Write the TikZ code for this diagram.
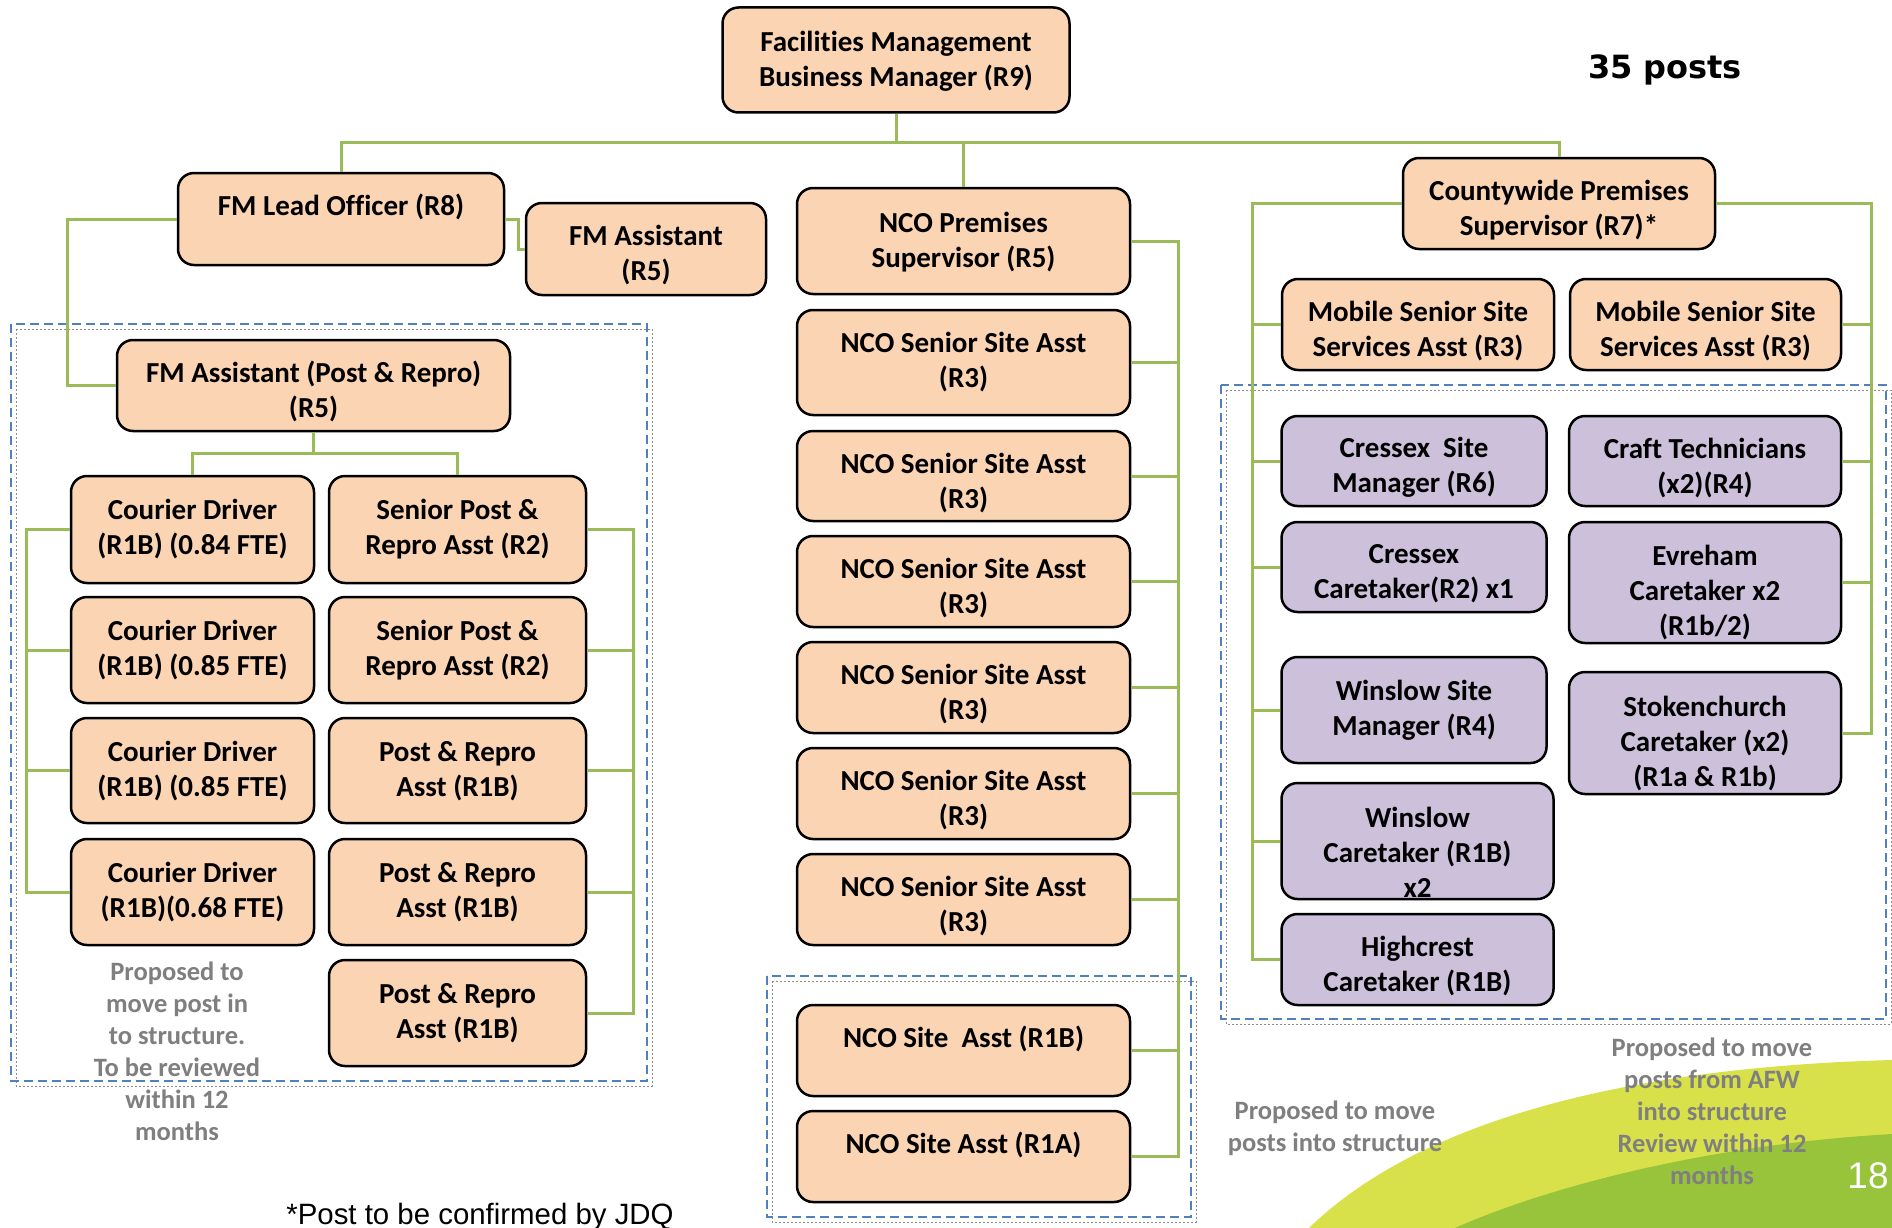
\documentclass[tikz,border=0pt]{standalone}
\usepackage{fontspec}
\setmainfont{Carlito}[Ligatures=NoCommon]
\newfontfamily\arialfont{Liberation Sans}
\newfontfamily\verdanafont{DejaVu Sans}
\usetikzlibrary{calc}

\definecolor{peach}{RGB}{251,212,180}
\definecolor{lilac}{RGB}{204,192,218}
\definecolor{linkgreen}{RGB}{155,187,89}
\definecolor{frameblue}{RGB}{79,129,189}
\definecolor{notegrey}{RGB}{127,127,127}
\definecolor{lime}{RGB}{217,225,74}
\definecolor{leaf}{RGB}{151,196,58}

\tikzset{
  postbox/.style={draw=black, line width=2.5pt, rounded corners=16pt, fill=peach, inner sep=0pt},
  sitebox/.style={postbox, fill=lilac},
  boxtext/.style={align=center, inner sep=0pt, font=\fontsize{29}{35}\selectfont\bfseries},
  link/.style={draw=linkgreen, line width=3pt},
  dashframe/.style={draw=frameblue, line width=2pt, dash pattern=on 9pt off 5pt},
  dashshade/.style={draw=black!45, line width=0.9pt, dash pattern=on 2pt off 2pt},
  remark/.style={align=center, text=notegrey, inner sep=0pt,
    font=\fontsize{26.5}{32}\selectfont\bfseries},
}

% #1 style, #2 name, #3,#4 centre, #5 width, #6 height,
% #7 drop of the text block below the top edge, #8 text
\newcommand\orgbox[8]{%
  \node[#1, minimum width=#5pt, minimum height=#6pt] (#2) at (#3,#4) {};
  \node[boxtext] (#2-t) at ([yshift=-#7pt]#2.north) {#8};
}

\begin{document}
\begin{tikzpicture}[x=1pt, y=-1pt]
\useasboundingbox (0,0) rectangle (1892,1228);
\fill[white] (0,0) rectangle (1892,1228);

% decorative swoosh, bottom right
\fill[lime] (1309,1228) .. controls (1410,1130) and (1600,1068) .. (1892,1060) -- (1892,1228) -- cycle;
\fill[leaf] (1455,1228) .. controls (1540,1190) and (1700,1145) .. (1892,1134) -- (1892,1228) -- cycle;

% dashed groupings of proposed posts
\draw[dashshade] (16,329) rectangle (652,1086);
\draw[dashframe] (11,324) rectangle (647,1081);
\draw[dashshade] (772,981) rectangle (1196,1222);
\draw[dashframe] (767,976) rectangle (1191,1217);
\draw[dashshade] (1226,390) rectangle (1891,1024);
\draw[dashframe] (1221,385) rectangle (1886,1019);

% ---- posts ----
\orgbox{postbox}{top}{896}{60}{347}{105}{55}{Facilities Management\\Business Manager (R9)}

\orgbox{postbox}{lead}{341}{219}{326}{92}{35.5}{FM Lead Officer (R8)}
\orgbox{postbox}{fmasst}{646}{249}{240}{92}{53.5}{FM Assistant\\(R5)}
\orgbox{postbox}{pr}{313.5}{385.5}{393}{91}{53}{FM Assistant (Post \& Repro)\\(R5)}

\orgbox{postbox}{cd1}{192.5}{529.5}{243}{107}{54.5}{Courier Driver\\(R1B) (0.84 FTE)}
\orgbox{postbox}{cd2}{192.5}{650}{243}{106}{54.5}{Courier Driver\\(R1B) (0.85 FTE)}
\orgbox{postbox}{cd3}{192.5}{770.5}{243}{105}{54.5}{Courier Driver\\(R1B) (0.85 FTE)}
\orgbox{postbox}{cd4}{192.5}{892}{243}{106}{54.5}{Courier Driver\\(R1B)(0.68 FTE)}

\orgbox{postbox}{sp1}{457.5}{529.5}{257}{107}{54.5}{Senior Post \&\\Repro Asst (R2)}
\orgbox{postbox}{sp2}{457.5}{650}{257}{106}{54.5}{Senior Post \&\\Repro Asst (R2)}
\orgbox{postbox}{pa1}{457.5}{770.5}{257}{105}{54.5}{Post \& Repro\\Asst (R1B)}
\orgbox{postbox}{pa2}{457.5}{892}{257}{106}{54.5}{Post \& Repro\\Asst (R1B)}
\orgbox{postbox}{pa3}{457.5}{1013}{257}{106}{54.5}{Post \& Repro\\Asst (R1B)}

\orgbox{postbox}{ncop}{963.5}{241}{333}{106}{55}{NCO Premises\\Supervisor (R5)}
\orgbox{postbox}{ns1}{963.5}{362.5}{333}{105}{53.5}{NCO Senior Site Asst\\(R3)}
\orgbox{postbox}{ns2}{963.5}{476}{333}{90}{53}{NCO Senior Site Asst\\(R3)}
\orgbox{postbox}{ns3}{963.5}{581.5}{333}{91}{53}{NCO Senior Site Asst\\(R3)}
\orgbox{postbox}{ns4}{963.5}{687.5}{333}{91}{53}{NCO Senior Site Asst\\(R3)}
\orgbox{postbox}{ns5}{963.5}{793.5}{333}{91}{53}{NCO Senior Site Asst\\(R3)}
\orgbox{postbox}{ns6}{963.5}{899.5}{333}{91}{53}{NCO Senior Site Asst\\(R3)}
\orgbox{postbox}{sb}{963.5}{1050.5}{333}{91}{35}{NCO Site\ \ Asst (R1B)}
\orgbox{postbox}{sa}{963.5}{1156.5}{333}{91}{35}{NCO Site Asst (R1A)}

\orgbox{postbox}{cps}{1559}{203.5}{312}{91}{53.5}{Countywide Premises\\Supervisor (R7)*}
\orgbox{postbox}{msl}{1418}{324.5}{272}{91}{53}{Mobile Senior Site\\Services Asst (R3)}
\orgbox{postbox}{msr}{1705.5}{324.5}{271}{91}{53}{Mobile Senior Site\\Services Asst (R3)}

\orgbox{sitebox}{csm}{1414}{461}{265}{90}{53}{Cressex\ \ Site\\Manager (R6)}
\orgbox{sitebox}{cct}{1414}{567}{265}{90}{53}{Cressex\\Caretaker(R2) x1}
\orgbox{sitebox}{wsm}{1414}{710}{265}{106}{54.5}{Winslow Site\\Manager (R4)}
\orgbox{sitebox}{wct}{1417.5}{841}{272}{116}{71}{Winslow\\Caretaker (R1B)\\x2}
\orgbox{sitebox}{hcc}{1417.5}{959.5}{272}{91}{53}{Highcrest\\Caretaker (R1B)}
\orgbox{sitebox}{ct}{1705}{461}{272}{90}{53}{Craft Technicians\\(x2)(R4)}
\orgbox{sitebox}{evr}{1705}{582.5}{272}{121}{72}{Evreham\\Caretaker x2\\(R1b/2)}
\orgbox{sitebox}{stk}{1705}{733}{272}{122}{72.5}{Stokenchurch\\Caretaker (x2)\\(R1a \& R1b)}

% ---- reporting lines ----
\coordinate (hub) at (896,142.5);
\draw[link] (top.south) -- (top.south |- hub);
\draw[link] (lead.north) -- (lead.north |- hub) -- (cps.north |- hub) -- (cps.north);
\draw[link] (ncop.north) -- (ncop.north |- hub);

\draw[link] (lead.east) -- ++(13,0) |- (fmasst.west);
\draw[link] (lead.west) -- ++(-109,0) |- (pr.west);

\coordinate (prj) at (313.5,453);
\draw[link] (pr.south) -- (prj);
\draw[link] (cd1.north) |- (prj) -| (sp1.north);

\coordinate (cbus) at (26,0);
\draw[link] (cd1.west) -- (cd1.west -| cbus) -- (cd4.west -| cbus) -- (cd4.west);
\foreach \n in {cd2,cd3} \draw[link] (\n.west) -- (\n.west -| cbus);

\coordinate (pbus) at (633,0);
\draw[link] (sp1.east) -- (sp1.east -| pbus) -- (pa3.east -| pbus) -- (pa3.east);
\foreach \n in {sp2,pa1,pa2} \draw[link] (\n.east) -- (\n.east -| pbus);

\coordinate (nbus) at (1178,0);
\draw[link] (ncop.east) -- (ncop.east -| nbus) -- (sa.east -| nbus) -- (sa.east);
\foreach \n in {ns1,ns2,ns3,ns4,ns5,ns6,sb} \draw[link] (\n.east) -- (\n.east -| nbus);

\coordinate (lbus) at (1252,0);
\draw[link] (cps.west) -- (cps.west -| lbus) -- (hcc.west -| lbus) -- (hcc.west);
\foreach \n in {msl,csm,cct,wsm,wct} \draw[link] (\n.west) -- (\n.west -| lbus);

\coordinate (rbus) at (1871,0);
\draw[link] (cps.east) -- (cps.east -| rbus) -- (stk.east -| rbus) -- (stk.east);
\foreach \n in {msr,ct,evr} \draw[link] (\n.east) -- (\n.east -| rbus);

% ---- notes ----
\node[remark] (note-left) at (177,1051)
  {Proposed to\\move post in\\to structure.\\To be reviewed\\within 12\\months};
\node[remark] (note-mid) at (1335,1128) {Proposed to move\\posts into structure};
\node[remark] (note-right) at (1712,1111.5)
  {Proposed to move\\posts from AFW\\into structure\\Review within 12\\months};

\node[inner sep=0pt, font=\arialfont\fontsize{29.4}{34}\selectfont] (jdq) at (480,1217)
  {*Post to be confirmed by JDQ};
\node[inner sep=0pt, font=\verdanafont\bfseries\fontsize{32}{38}\selectfont] (total) at (1665,70)
  {35 posts};
\node[inner sep=0pt, text=white, font=\arialfont\fontsize{37}{40}\selectfont] (page) at (1868,1176)
  {18};
\end{tikzpicture}
\end{document}
